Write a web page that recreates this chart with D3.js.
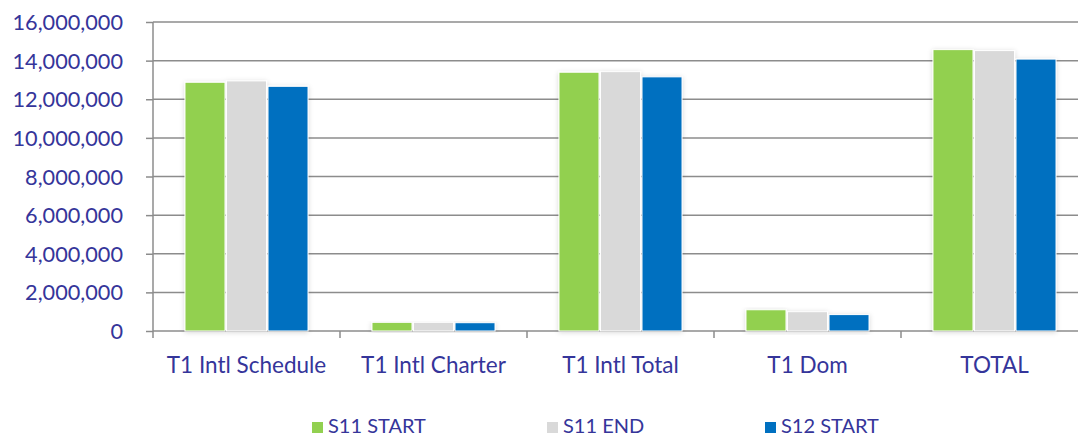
<!DOCTYPE html>
<html>
<head>
<meta charset="utf-8">
<script src="https://cdn.jsdelivr.net/npm/d3@7"></script>
<style>
  body { margin: 0; background: #fff; }
  text { font-family: Lato, "Open Sans", sans-serif; fill: #35359a; }
</style>
</head>
<body>
<svg id="chart" width="1078" height="437"></svg>
<script>
// chart data
const categories = ['T1 Intl Schedule', 'T1 Intl Charter', 'T1 Intl Total', 'T1 Dom', 'TOTAL'];
const seriesNames = ['S11 START', 'S11 END', 'S12 START'];
const s11Start = [12880000, 450000, 13400000, 1100000, 14570000];
const s11End = [12950000, 450000, 13430000, 1000000, 14520000];
const s12Start = [12670000, 430000, 13160000, 850000, 14080000];
const yTicks = [0, 2000000, 4000000, 6000000, 8000000, 10000000, 12000000, 14000000, 16000000];
const colors = ['#92d050', '#d9d9d9', '#0070c0'];

const series = [s11Start, s11End, s12Start];

const svg = d3.select('#chart');
const plot = {'left': 153, 'right': 1088, 'top': 22, 'bottom': 331};

const x = d3.scaleBand().domain(categories).range([plot.left, plot.right]);
const xInner = d3.scaleBand().domain(d3.range(series.length)).range([0, x.bandwidth()])
    .paddingOuter(0.77).paddingInner(0.036);
const y = d3.scaleLinear().domain([0, 16000000]).range([plot.bottom, plot.top]);

const defs = svg.append('defs');
const f = defs.append('filter').attr('id', 'shadow').attr('x', '-20%').attr('y', '-10%').attr('width', '140%').attr('height', '125%');
f.append('feDropShadow').attr('dx', 0).attr('dy', 1).attr('stdDeviation', 2.5)
    .attr('flood-color', '#000').attr('flood-opacity', 0.16);

// y axis labels + ticks
svg.append('g')
    .attr('transform', 'translate(' + plot.left + ',0)')
    .call(d3.axisLeft(y).tickValues(yTicks).tickSize(7).tickFormat(d3.format(',')))
    .call(g => g.select('.domain').remove())
    .call(g => g.selectAll('line').attr('stroke', '#8c8c8c').attr('stroke-width', 1.5))
    .call(g => g.selectAll('text').attr('x', -30).attr('dy', '0.35em').style('font-size', '21.7px').attr('fill', '#35359a'));

// gridlines
svg.append('g').selectAll('line')
    .data(yTicks)
    .join('line')
    .attr('x1', plot.left).attr('x2', plot.right)
    .attr('y1', d => y(d)).attr('y2', d => y(d))
    .attr('stroke', '#8c8c8c').attr('stroke-width', 1.5);

svg.append('line')
    .attr('x1', plot.left).attr('x2', plot.left).attr('y1', plot.top).attr('y2', plot.bottom)
    .attr('stroke', '#8c8c8c').attr('stroke-width', 1.5);

// x axis
svg.append('g')
    .attr('transform', 'translate(0,' + plot.bottom + ')')
    .call(d3.axisBottom(x).tickSize(0).tickPadding(25))
    .call(g => g.select('.domain').remove())
    .call(g => g.selectAll('text').attr('dy', '0.75em').style('font-size', '22.5px').attr('fill', '#35359a'));

svg.append('g').selectAll('line')
    .data(categories.map((c, i) => plot.left + i * x.step()).concat([plot.right]))
    .join('line')
    .attr('x1', d => d).attr('x2', d => d)
    .attr('y1', plot.bottom).attr('y2', plot.bottom + 7)
    .attr('stroke', '#8c8c8c').attr('stroke-width', 1.5);

// bars
const groups = svg.append('g').selectAll('g')
    .data(categories)
    .join('g')
    .attr('transform', d => 'translate(' + x(d) + ',0)')
    .attr('filter', 'url(#shadow)');

groups.selectAll('rect')
    .data((d, ci) => series.map((s, si) => ({si: si, v: s[ci]})))
    .join('rect')
    .attr('x', d => xInner(d.si))
    .attr('width', xInner.bandwidth())
    .attr('y', d => y(d.v))
    .attr('height', d => y(0) - y(d.v))
    .attr('fill', d => colors[d.si])
    .attr('stroke', '#fff').attr('stroke-width', 1);

// legend
const legendX = [312, 547, 765];
const legend = svg.append('g').selectAll('g')
    .data(seriesNames)
    .join('g')
    .attr('transform', (d, i) => 'translate(' + legendX[i] + ',422)');

legend.append('rect')
    .attr('width', 11).attr('height', 11)
    .attr('fill', (d, i) => colors[i]);

legend.append('text')
    .attr('x', 16).attr('y', 11)
    .style('font-size', '20px')
    .text(d => d);
</script>
</body>
</html>
